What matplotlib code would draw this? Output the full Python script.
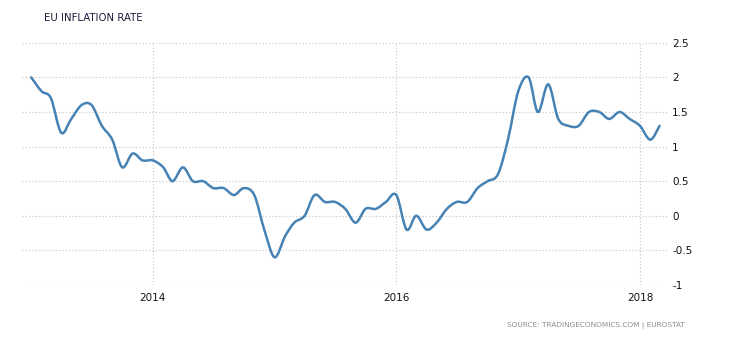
import numpy as np
import pandas as pd
import matplotlib
matplotlib.use("Agg")
import matplotlib.pyplot as plt
import matplotlib.dates as mdates
from matplotlib.path import Path
from matplotlib.patches import PathPatch

# Datos mensuales (tasa de inflación, %), enero 2013 - marzo 2018
INICIO = "2013-01-01"
INFLACION = [
    2.0, 1.8, 1.7, 1.2, 1.4, 1.6, 1.6, 1.3, 1.1, 0.7, 0.9, 0.8,      # 2013
    0.8, 0.7, 0.5, 0.7, 0.5, 0.5, 0.4, 0.4, 0.3, 0.4, 0.3, -0.2,     # 2014
    -0.6, -0.3, -0.1, 0.0, 0.3, 0.2, 0.2, 0.1, -0.1, 0.1, 0.1, 0.2,  # 2015
    0.3, -0.2, 0.0, -0.2, -0.1, 0.1, 0.2, 0.2, 0.4, 0.5, 0.6, 1.1,   # 2016
    1.8, 2.0, 1.5, 1.9, 1.4, 1.3, 1.3, 1.5, 1.5, 1.4, 1.5, 1.4,      # 2017
    1.3, 1.1, 1.3,                                                   # 2018
]
TICKS_X = ["2014-01-01", "2016-01-01", "2018-01-01"]
ETIQUETAS_X = ["2014", "2016", "2018"]
TICKS_Y = [-1, -0.5, 0, 0.5, 1, 1.5, 2, 2.5]
ETIQUETAS_Y = ["-1", "-0.5", "0", "0.5", "1", "1.5", "2", "2.5"]

TITULO = "EU INFLATION RATE"
FUENTE = "SOURCE: TRADINGECONOMICS.COM | EUROSTAT"

fechas = pd.date_range(INICIO, periods=len(INFLACION), freq="MS")
x = mdates.date2num(fechas)
y = np.array(INFLACION)

fig = plt.figure(figsize=(7.3, 3.4), dpi=100)
ax = fig.add_axes([0.030, 0.162, 0.885, 0.712])

# Curva suavizada (Catmull-Rom convertido a Bezier cúbico)
puntos = np.column_stack([x, y])
ext = np.vstack([puntos[0], puntos, puntos[-1]])
verts = [tuple(puntos[0])]
codes = [Path.MOVETO]
for i in range(1, len(ext) - 2):
    p0, p1, p2, p3 = ext[i - 1], ext[i], ext[i + 1], ext[i + 2]
    c1 = p1 + (p2 - p0) / 6.0
    c2 = p2 - (p3 - p1) / 6.0
    verts += [tuple(c1), tuple(c2), tuple(p2)]
    codes += [Path.CURVE4] * 3
ax.add_patch(PathPatch(Path(verts, codes), facecolor="none",
                       edgecolor="#4682b4", linewidth=1.8, zorder=3,
                       capstyle="round", joinstyle="round"))

ax.set_xlim(mdates.date2num(pd.Timestamp("2012-12-04")),
            mdates.date2num(pd.Timestamp("2018-03-26")))
ax.set_ylim(-1, 2.5)

ax.set_xticks(mdates.date2num(pd.to_datetime(TICKS_X)))
ax.set_xticklabels(ETIQUETAS_X)
ax.set_yticks(TICKS_Y)
ax.set_yticklabels(ETIQUETAS_Y)
ax.yaxis.tick_right()
ax.tick_params(axis="both", length=0, labelsize=7.5, colors="#111111")
ax.tick_params(axis="y", pad=3)
ax.tick_params(axis="x", pad=6)
for lbl in ax.get_yticklabels():
    lbl.set_horizontalalignment("left")

ax.grid(True, color="#c4c4c4", linestyle=(0, (1, 2)), linewidth=0.8)
ax.set_axisbelow(True)
for s in ax.spines.values():
    s.set_visible(False)

fig.text(0.060, 0.947, TITULO, fontsize=7.3, color="#1a1a3a", va="center", ha="left")
fig.text(0.938, 0.044, FUENTE, fontsize=5.3, color="#8c8c8c", va="center", ha="right")

fig.savefig("out.png", dpi=100)
